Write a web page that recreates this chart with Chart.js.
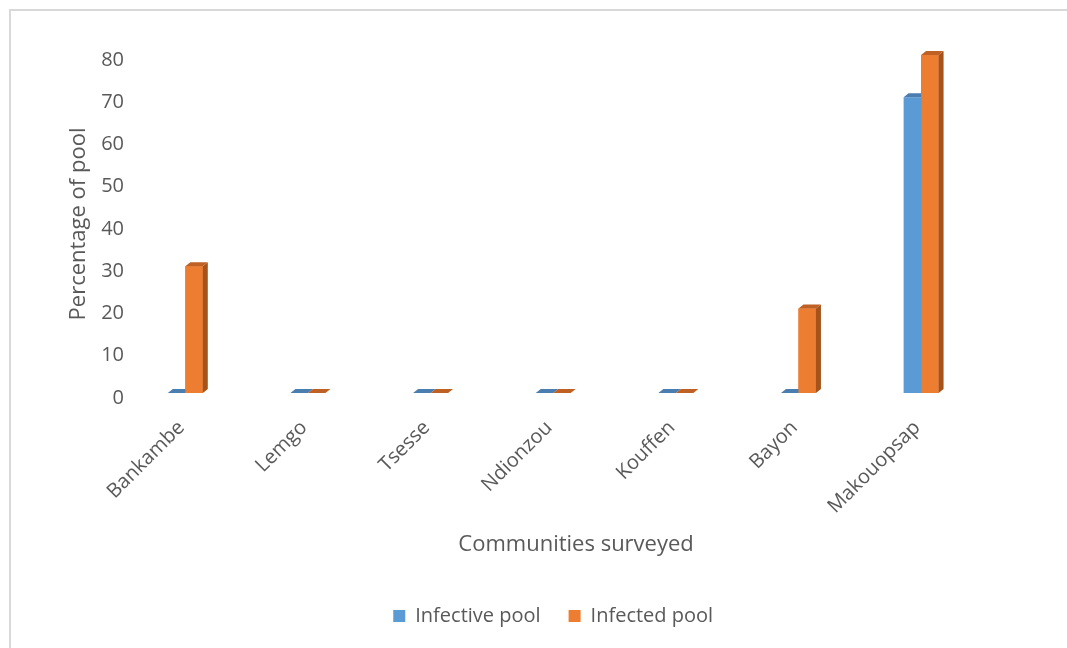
<!DOCTYPE html>
<html>
<head>
<meta charset="utf-8">
<script src="https://cdn.jsdelivr.net/npm/chart.js@4.4.1/dist/chart.umd.min.js"></script>
<style>
  body { margin: 0; background: #fff; }
  #wrap { position: relative; width: 1067px; height: 648px; overflow: hidden; }
  #frame { position: absolute; left: 9px; top: 9px; right: 0; bottom: 0;
           border-left: 2px solid #d9d9d9; border-top: 2px solid #d9d9d9; }
  canvas { position: absolute; left: 0; top: 0; }
</style>
</head>
<body>
<div id="wrap">
  <canvas id="poolChart" width="1067" height="648"></canvas>
  <div id="frame"></div>
</div>
<script>
const categories = ['Bankambe', 'Lemgo', 'Tsesse', 'Ndionzou', 'Kouffen', 'Bayon', 'Makouopsap'];
const infectivePool = [0, 0, 0, 0, 0, 0, 70];
const infectedPool = [30, 0, 0, 0, 0, 20, 80];
const seriesNames = ['Infective pool', 'Infected pool'];

const textColor = '#595959';
const fontName = "'Open Sans', sans-serif";

// front / side / top colours for the fake 3D bars
const shades = [
    { front: '#5b9bd5', side: '#41719c', top: '#4a7db0' },
    { front: '#ed7d31', side: '#a5521b', top: '#bf6024' }
];

// draws the depth faces of each bar, category by category so overlaps look right
const bar3d = {
    id: 'bar3d',
    afterDatasetsDraw(chart) {
        const ctx = chart.ctx;
        const dx = 5, dy = -4;
        const metas = [chart.getDatasetMeta(0), chart.getDatasetMeta(1)];
        function poly(pts, color) {
            ctx.beginPath();
            ctx.moveTo(pts[0][0], pts[0][1]);
            for (let p = 1; p < pts.length; p++) ctx.lineTo(pts[p][0], pts[p][1]);
            ctx.closePath();
            ctx.fillStyle = color;
            ctx.fill();
        }
        ctx.save();
        for (let i = 0; i < categories.length; i++) {
            metas.forEach((meta, k) => {
                const bar = meta.data[i].getProps(['x', 'y', 'base', 'width'], true);
                const c = shades[k];
                const left = bar.x - bar.width / 2;
                const right = bar.x + bar.width / 2;
                const top = Math.min(bar.y, bar.base);
                const base = Math.max(bar.y, bar.base);
                if (k > 0) {
                    ctx.fillStyle = c.front;
                    ctx.fillRect(left, top, bar.width, base - top);
                }
                poly([[right, top], [right + dx, top + dy], [right + dx, base + dy], [right, base]], c.side);
                poly([[left, top], [right, top], [right + dx, top + dy], [left + dx, top + dy]], c.top);
            });
        }
        ctx.restore();
    }
};

const chartData = {
    labels: categories,
    datasets: [{
        label: seriesNames[0],
        data: infectivePool,
        backgroundColor: shades[0].front,
        borderWidth: 0,
        categoryPercentage: 0.285,
        barPercentage: 1
    }, {
        label: seriesNames[1],
        data: infectedPool,
        backgroundColor: shades[1].front,
        borderWidth: 0,
        categoryPercentage: 0.285,
        barPercentage: 1
    }]
};

const config = {
    type: 'bar',
    data: chartData,
    plugins: [bar3d],
    options: {
        responsive: false,
        animation: false,
        layout: {
            padding: { top: 55, right: 84.6, bottom: 12, left: 0 }
        },
        plugins: {
            tooltip: { enabled: false },
            legend: {
                position: 'bottom',
                fullSize: false,
                labels: {
                    color: textColor,
                    font: { family: fontName, size: 20 },
                    boxWidth: 12,
                    boxHeight: 12,
                    padding: 28
                }
            }
        },
        scales: {
            x: {
                grid: { display: false },
                border: { display: false },
                ticks: {
                    color: textColor,
                    font: { family: fontName, size: 20 },
                    minRotation: 45,
                    maxRotation: 45,
                    padding: 15,
                    labelOffset: -4
                },
                title: {
                    display: true,
                    // leading spaces push the title right, as Excel placed it
                    text: '        Communities surveyed',
                    color: textColor,
                    font: { family: fontName, size: 22 },
                    padding: { top: 0, bottom: 19.8 }
                },
                afterFit: function(scale) { scale.height = 185; }
            },
            y: {
                min: 0,
                max: 80,
                grid: { display: false, drawTicks: false },
                border: { display: false },
                ticks: {
                    stepSize: 10,
                    color: textColor,
                    font: { family: fontName, size: 20 },
                    padding: 0,
                    labelOffset: 5
                },
                title: {
                    display: true,
                    text: 'Percentage of pool',
                    color: textColor,
                    font: { family: fontName, size: 22 },
                    padding: { top: 66, bottom: 0 }
                },
                afterFit: function(scale) { scale.width = 124; }
            }
        }
    }
};

new Chart(document.getElementById('poolChart'), config);
</script>
</body>
</html>
